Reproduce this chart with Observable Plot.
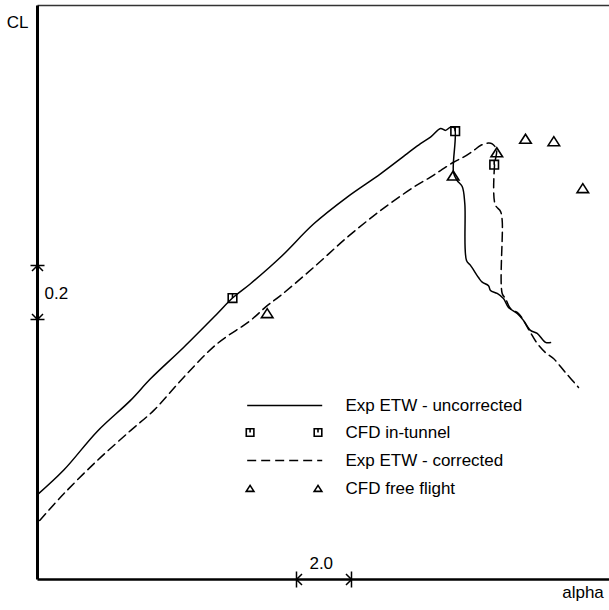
<!DOCTYPE html>
<html><head><meta charset="utf-8">
<script src="https://cdn.jsdelivr.net/npm/d3@7"></script>
<script src="https://cdn.jsdelivr.net/npm/@observablehq/plot@0.6"></script>
<style>html,body{margin:0;padding:0;background:#fff} svg{display:block}</style>
</head><body><div id="chart"></div>
<script>
// ---- data (alpha offset, CL offset; axes have no ticks, only scale bars) ----
const uncorrAlpha = [0.000,0.956,2.171,3.382,4.109,5.320,6.535,7.091,7.745,8.836,10.047,11.262,12.473,13.444,13.927,14.291,14.655,14.836,15.018,15.164,15.127,15.262,15.444,15.538,15.600,15.745,16.036,16.171,16.400,16.473,16.716,16.945,17.127,17.444,17.673,17.927,18.171,18.473,18.655];
const uncorrCL    = [0.307,0.398,0.541,0.656,0.736,0.853,0.977,1.035,1.088,1.186,1.310,1.409,1.495,1.570,1.607,1.631,1.663,1.656,1.668,1.665,1.500,1.470,1.448,1.385,1.174,1.156,1.111,1.094,1.081,1.063,1.052,1.033,1.000,0.978,0.952,0.915,0.904,0.871,0.870];

const corrAlpha = [0.080,0.956,2.171,3.382,4.229,5.320,6.535,7.745,8.353,8.836,10.047,11.262,12.473,13.684,14.291,14.655,15.127,15.491,15.855,16.109,16.400,16.535,16.691,16.618,16.644,16.836,16.898,16.898,17.018,17.200,17.491,17.673,17.927,18.171,18.473,18.764,19.200,19.673];
const corrCL    = [0.211,0.310,0.433,0.544,0.619,0.742,0.866,0.952,1.007,1.044,1.149,1.260,1.359,1.446,1.483,1.507,1.538,1.557,1.581,1.600,1.609,1.606,1.585,1.526,1.381,1.356,1.322,1.052,1.033,0.996,0.978,0.952,0.907,0.867,0.833,0.811,0.759,0.704];

const tunnelAlpha = [7.091,15.189,16.607];
const tunnelCL    = [1.035,1.653,1.529];

const freeAlpha = [8.353,15.116,16.702,17.745,18.775,19.829];
const freeCL    = [0.979,1.489,1.575,1.625,1.616,1.442];

const legendLabels = ["Exp ETW - uncorrected","CFD in-tunnel","Exp ETW - corrected","CFD free flight"];
const clBar = [0.9556, 1.1556];      // 0.2 scale bar
const alphaBar = [9.418, 11.418];    // 2.0 scale bar
const clBarLabel = "0.2";
const alphaBarLabel = "2.0";
const yLabel = "CL";
const xLabel = "alpha";

// ---- symbols ----
const sqTick = {draw(ctx, size){const r=Math.sqrt(size/Math.PI);ctx.moveTo(-r,-r);ctx.lineTo(r,-r);ctx.lineTo(r,r);ctx.lineTo(-r,r);ctx.closePath();ctx.moveTo(0,-r);ctx.lineTo(0,0);}};
const tri = {draw(ctx, size){const r=Math.sqrt(size/Math.PI);const w=1.28*r;ctx.moveTo(0,-r);ctx.lineTo(w,r);ctx.lineTo(-w,r);ctx.closePath();}};
const dimUp = {draw(c){c.moveTo(-7,0);c.lineTo(7,0);c.moveTo(-5.5,5.5);c.lineTo(0,0);c.lineTo(5.5,5.5);}};
const dimDown = {draw(c){c.moveTo(-7,0);c.lineTo(7,0);c.moveTo(-5.5,-5.5);c.lineTo(0,0);c.lineTo(5.5,-5.5);}};
const dimLeft = {draw(c){c.moveTo(0,-8);c.lineTo(0,8);c.moveTo(5.5,-5.5);c.lineTo(0,0);c.lineTo(5.5,5.5);}};
const dimRight = {draw(c){c.moveTo(0,-8);c.lineTo(0,8);c.moveTo(-5.5,-5.5);c.lineTo(0,0);c.lineTo(-5.5,5.5);}};

const uncorr = uncorrAlpha.map((a,i)=>({a, c: uncorrCL[i]}));
const corr = corrAlpha.map((a,i)=>({a, c: corrCL[i]}));
const tunnel = tunnelAlpha.map((a,i)=>({a, c: tunnelCL[i]}));
const free = freeAlpha.map((a,i)=>({a, c: freeCL[i]}));

const xMax = 20.8, yMin = -0.0074, yMax = 2.1185;
// legend layout (data units)
const legRows = [0.637, 0.537, 0.433, 0.330];
const legX0 = 7.625, legX1 = 10.353, legTextX = 11.2;
const legM0 = 7.73, legM1 = 10.2;

const font = "Liberation Sans, Arial, Helvetica, sans-serif";
const fs = 17;

const chart = Plot.plot({
  width: 609, height: 610,
  marginLeft: 37, marginRight: 0, marginTop: 5, marginBottom: 31,
  x: {domain: [0, xMax], axis: null},
  y: {domain: [yMin, yMax], axis: null},
  style: {background: "#fff", fontFamily: font, overflow: "visible"},
  marks: [
    Plot.link([0], {x1: 0, x2: xMax, y1: yMax, y2: yMax, stroke: "#333", strokeWidth: 1.4}),
    Plot.link([0], {x1: 0, x2: 0, y1: yMin, y2: yMax, stroke: "#000", strokeWidth: 3}),
    Plot.link([0], {x1: 0, x2: xMax, y1: yMin, y2: yMin, stroke: "#000", strokeWidth: 2.6}),
    Plot.line(uncorr, {x: "a", y: "c", stroke: "#000", strokeWidth: 1.5, curve: "catmull-rom"}),
    Plot.line(corr, {x: "a", y: "c", stroke: "#000", strokeWidth: 1.5, strokeDasharray: "9,5", curve: "catmull-rom"}),
    Plot.dot(tunnel, {x: "a", y: "c", symbol: sqTick, r: 4.3, fill: "none", stroke: "#000", strokeWidth: 1.6}),
    Plot.dot(free, {x: "a", y: "c", symbol: tri, r: 4.5, fill: "none", stroke: "#000", strokeWidth: 1.6}),
    // scale bars
    Plot.dot([clBar[1]], {x: 0, y: d=>d, symbol: dimUp, fill: "none", stroke: "#000", strokeWidth: 1.5}),
    Plot.dot([clBar[0]], {x: 0, y: d=>d, symbol: dimDown, fill: "none", stroke: "#000", strokeWidth: 1.5}),
    Plot.dot([alphaBar[0]], {x: d=>d, y: yMin, symbol: dimLeft, fill: "none", stroke: "#000", strokeWidth: 1.5}),
    Plot.dot([alphaBar[1]], {x: d=>d, y: yMin, symbol: dimRight, fill: "none", stroke: "#000", strokeWidth: 1.5}),
    Plot.text([clBarLabel], {x: 0.2545, y: (clBar[0]+clBar[1])/2 - 0.0049, text: d=>d, textAnchor: "start", fontSize: fs, fill: "#000"}),
    Plot.text([alphaBarLabel], {x: (alphaBar[0]+alphaBar[1])/2 - 0.1, y: 0.053, text: d=>d, fontSize: fs, fill: "#000"}),
    Plot.text([yLabel], {x: -0.727, y: 2.054, text: d=>d, fontSize: fs, fill: "#000"}),
    Plot.text([xLabel], {x: 19.836, y: -0.0544, text: d=>d, fontSize: fs, fill: "#000"}),
    // legend
    Plot.link([legRows[0]], {x1: legX0, x2: legX1, y1: d=>d, y2: d=>d, stroke: "#000", strokeWidth: 1.5}),
    Plot.link([legRows[2]], {x1: legX0, x2: legX1, y1: d=>d, y2: d=>d, stroke: "#000", strokeWidth: 1.5, strokeDasharray: "9,5"}),
    Plot.dot([legM0, legM1], {x: d=>d, y: legRows[1], symbol: sqTick, r: 3.8, fill: "none", stroke: "#000", strokeWidth: 1.6}),
    Plot.dot([legM0, legM1], {x: d=>d, y: legRows[3], symbol: tri, r: 3, fill: "none", stroke: "#000", strokeWidth: 1.6}),
    Plot.text(legendLabels, {x: legTextX, y: (d,i)=>legRows[i], text: d=>d, textAnchor: "start", fontSize: fs, fill: "#000"})
  ]
});
document.getElementById("chart").appendChild(chart);
</script>
</body></html>
